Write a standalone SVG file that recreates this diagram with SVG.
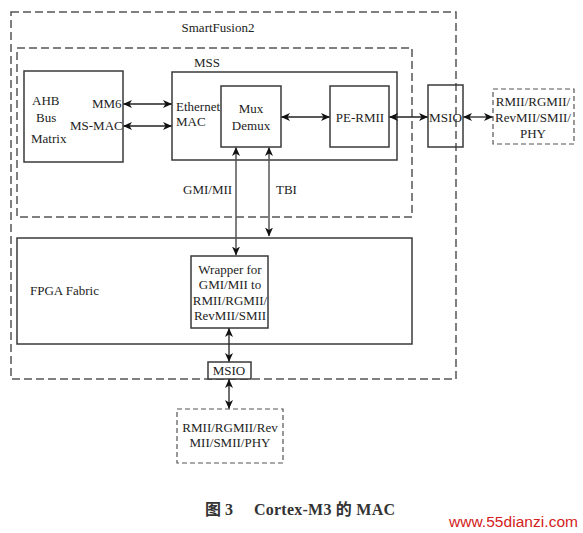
<svg xmlns="http://www.w3.org/2000/svg" width="583" height="533" viewBox="0 0 583 533">
<style>
.box{fill:none;stroke:#3a3a3a;stroke-width:1.5}
.dash{fill:none;stroke:#555;stroke-width:1.5;stroke-dasharray:8 4}
.t{font-family:"Liberation Serif",serif;font-size:13px;fill:#222}
.c{text-anchor:middle}
.cap{font-family:"Liberation Serif","Noto Sans CJK SC",serif;font-size:16px;font-weight:bold;fill:#333}
.ln{stroke:#222;stroke-width:1.3;fill:none;marker-start:url(#ah);marker-end:url(#ah)}
.vl{stroke:#555;stroke-width:1.5;fill:none;marker-start:url(#ah);marker-end:url(#ah)}
</style>
<defs>
<marker id="ah" viewBox="0 0 9 8" refX="8.5" refY="4" markerWidth="9" markerHeight="8" markerUnits="userSpaceOnUse" orient="auto-start-reverse">
<path d="M0,0 L9,4 L0,8 L2.5,4 z" fill="#111"/>
</marker>
</defs>
<rect width="583" height="533" fill="#fff"/>
<g id="smartfusion2">
<rect class="dash" x="11" y="12" width="445" height="367"/>
<text class="t c" x="218" y="32">SmartFusion2</text>
</g>
<g id="mss">
<rect class="dash" x="17" y="48" width="395" height="169"/>
<text class="t c" x="207" y="67">MSS</text>
</g>
<g id="ahb">
<rect class="box" x="24" y="71" width="99" height="91"/>
<text class="t" x="32" y="105">AHB</text>
<text class="t" x="36" y="122">Bus</text>
<text class="t" x="31" y="143">Matrix</text>
<text class="t" x="92" y="108">MM6</text>
<text class="t" x="70" y="130">MS-MAC</text>
</g>
<g id="ethernet-mac">
<rect class="box" x="172" y="72" width="225" height="88"/>
<text class="t" x="176" y="111">Ethernet</text>
<text class="t" x="176" y="126">MAC</text>
</g>
<g id="mux-demux">
<rect class="box" x="221" y="86" width="60" height="61"/>
<text class="t c" x="251" y="113">Mux</text>
<text class="t c" x="251" y="130">Demux</text>
</g>
<g id="pe-rmii">
<rect class="box" x="330" y="86" width="59" height="61"/>
<text class="t c" x="360" y="122">PE-RMII</text>
</g>
<g id="msio-right">
<rect class="box" x="428" y="85" width="35" height="62"/>
<text class="t c" x="445.5" y="122" textLength="33" lengthAdjust="spacingAndGlyphs">MSIO</text>
</g>
<g id="phy-right">
<rect class="dash" x="493" y="89" width="81" height="55" style="stroke-dasharray:5 3;stroke-width:1.2"/>
<text class="t c" x="533" y="106">RMII/RGMII/</text>
<text class="t c" x="533" y="122">RevMII/SMII/</text>
<text class="t c" x="533" y="138">PHY</text>
</g>
<g id="fpga-fabric">
<rect class="box" x="17" y="238" width="395" height="106"/>
<text class="t" x="30" y="295">FPGA Fabric</text>
</g>
<g id="wrapper">
<rect class="box" x="191" y="256" width="77" height="72" style="fill:#fff"/>
<text class="t c" x="230" y="274">Wrapper for</text>
<text class="t c" x="230" y="289">GMI/MII to</text>
<text class="t c" x="230" y="305">RMII/RGMII/</text>
<text class="t c" x="230" y="320">RevMII/SMII</text>
</g>
<g id="msio-bottom">
<rect class="box" x="208" y="362" width="43" height="17" style="fill:#fff"/>
<text class="t c" x="229" y="375">MSIO</text>
</g>
<g id="phy-bottom">
<rect class="dash" x="177" y="409" width="106" height="54" style="stroke-dasharray:5 3;stroke-width:1.2"/>
<text class="t c" x="230" y="432">RMII/RGMII/Rev</text>
<text class="t c" x="230" y="447">MII/SMII/PHY</text>
</g>
<g id="connectors">
<line class="ln" x1="123.5" y1="104" x2="171.5" y2="104"/>
<line class="ln" x1="123.5" y1="126" x2="171.5" y2="126"/>
<line class="ln" x1="281.5" y1="117" x2="329.5" y2="117"/>
<line class="ln" x1="389.5" y1="117" x2="427.5" y2="117"/>
<line class="ln" x1="463.5" y1="117" x2="492.5" y2="117"/>
<line class="vl" x1="236" y1="147.5" x2="236" y2="255"/>
<line class="vl" x1="269" y1="147.5" x2="269" y2="236"/>
<line class="ln" x1="229" y1="328.5" x2="229" y2="361.5"/>
<line class="ln" x1="229" y1="379.5" x2="229" y2="408.5"/>
<text class="t" x="183" y="194">GMI/MII</text>
<text class="t" x="276" y="194">TBI</text>
</g>
<g id="caption">
<text class="cap" x="205" y="515">图 3</text>
<text class="cap" x="254" y="515" textLength="141" lengthAdjust="spacing">Cortex-M3 的 MAC</text>
<text x="449" y="527" textLength="129" style="font-family:'Liberation Sans',sans-serif;font-size:15.5px;fill:#d42020">www.55dianzi.com</text>
</g>
</svg>
